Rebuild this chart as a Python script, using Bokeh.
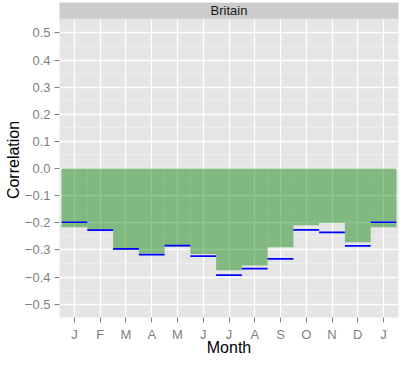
from bokeh.plotting import figure
from bokeh.models import FixedTicker, Range1d, ColumnDataSource, Label
from bokeh.embed import file_html
from bokeh.resources import INLINE

# ---- data ----
months = ["J", "F", "M", "A", "M", "J", "J", "A", "S", "O", "N", "D", "J"]
month_pos = [1, 2, 3, 4, 5, 6, 7, 8, 9, 10, 11, 12, 13]
bar_values = [-0.216, -0.226, -0.300, -0.313, -0.287, -0.315, -0.375,
              -0.357, -0.290, -0.209, -0.201, -0.272, -0.216]
line_values = [-0.198, -0.227, -0.296, -0.317, -0.284, -0.323, -0.393,
               -0.369, -0.333, -0.226, -0.235, -0.285, -0.198]
y_ticks = [-0.5, -0.4, -0.3, -0.2, -0.1, 0.0, 0.1, 0.2, 0.3, 0.4, 0.5]
y_tick_labels = ["\u22120.5", "\u22120.4", "\u22120.3", "\u22120.2", "\u22120.1",
                 "0.0", "0.1", "0.2", "0.3", "0.4", "0.5"]
y_minor = [-0.45, -0.35, -0.25, -0.15, -0.05, 0.05, 0.15, 0.25, 0.35, 0.45]
panel_title = "Britain"
x_title = "Month"
y_title = "Correlation"

X0, X1 = 0.42, 13.58
Y0, PANEL_TOP, Y1 = -0.549, 0.552, 0.612
FONT = "Liberation Sans"
W, H = 399, 360
LEFT, RIGHT, TOP, BOTTOM = 59, 1, 2, 43

p = figure(width=W, height=H, x_range=Range1d(X0, X1), y_range=Range1d(Y0, Y1),
           output_backend="svg", toolbar_location=None,
           min_border_left=LEFT, min_border_right=RIGHT,
           min_border_top=TOP, min_border_bottom=BOTTOM)
p.background_fill_color = "#E5E5E5"
p.border_fill_color = "white"
p.outline_line_color = None

# grid
p.xgrid.ticker = FixedTicker(ticks=month_pos)
p.xgrid.grid_line_color = "white"
p.xgrid.grid_line_width = 1.3
p.ygrid.ticker = FixedTicker(ticks=y_ticks, minor_ticks=y_minor)
p.ygrid.grid_line_color = "white"
p.ygrid.grid_line_width = 1.3
p.ygrid.minor_grid_line_color = "#F2F2F2"
p.ygrid.minor_grid_line_width = 0.7

# bars and segments
src = ColumnDataSource(dict(x=month_pos, bottom=bar_values,
                            x0=[m - 0.5 for m in month_pos], x1=[m + 0.5 for m in month_pos],
                            y=line_values))
p.vbar(x="x", width=1.0, top=0, bottom="bottom", source=src,
       fill_color="#008000", fill_alpha=0.44, line_color=None)
p.segment(x0="x0", x1="x1", y0="y", y1="y", source=src, line_color="#0000FF", line_width=1.7)

# facet strip
p.quad(left=X0, right=X1, bottom=PANEL_TOP, top=Y1, fill_color="#CCCCCC", line_color=None)
p.add_layout(Label(x=(X0 + X1) / 2, y=(PANEL_TOP + Y1) / 2, text=panel_title,
                   text_align="center", text_baseline="middle",
                   text_font=FONT, text_font_size="13px", text_color="#1A1A1A"))

# axes
for ax in (p.xaxis[0], p.yaxis[0]):
    ax.axis_line_color = None
    ax.major_tick_line_color = "#7F7F7F"
    ax.major_tick_in = 0
    ax.major_tick_out = 5
    ax.minor_tick_line_color = None
    ax.major_label_text_color = "#7F7F7F"
    ax.major_label_text_font = FONT
    ax.major_label_text_font_size = "13px"
    ax.major_label_standoff = 4
    ax.axis_label_text_font = FONT
    ax.axis_label_text_font_size = "16px"
    ax.axis_label_text_font_style = "normal"
    ax.axis_label_text_color = "black"

p.xaxis.ticker = FixedTicker(ticks=month_pos)
p.xaxis.major_label_overrides = {m: lab for m, lab in zip(month_pos, months)}
p.xaxis.axis_label = x_title
p.xaxis.axis_label_standoff = -6
p.yaxis.ticker = FixedTicker(ticks=y_ticks)
p.yaxis.major_label_overrides = {t: lab for t, lab in zip(y_ticks, y_tick_labels)}
p.yaxis.axis_label = y_title
p.yaxis.axis_label_standoff = 0
p.yaxis.bounds = (Y0, PANEL_TOP)

open("out.html", "w").write(file_html(p, INLINE))
